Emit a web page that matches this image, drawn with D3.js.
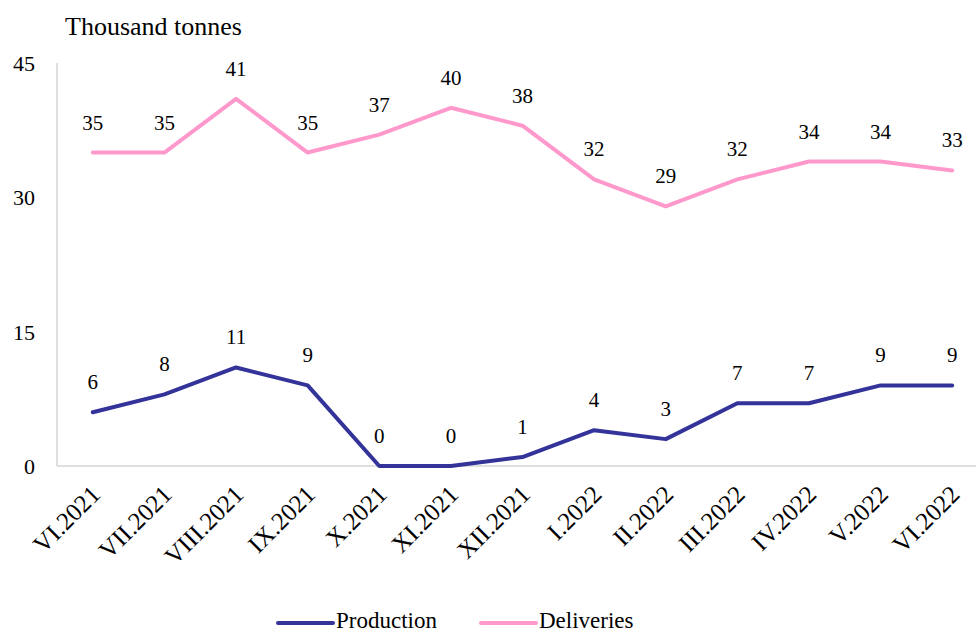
<!DOCTYPE html>
<meta charset="utf-8">
<style>
body { margin: 0; background: #fff; }
svg text { font-family: "Liberation Serif", "Times New Roman", serif; fill: #000; }
</style>
<svg width="976" height="634"></svg>
<script src="https://cdn.jsdelivr.net/npm/d3@7"></script>
<script>
var months = ["VI.2021", "VII.2021", "VIII.2021", "IX.2021", "X.2021", "XI.2021", "XII.2021",
              "I.2022", "II.2022", "III.2022", "IV.2022", "V.2022", "VI.2022"];
var production = [6, 8, 11, 9, 0, 0, 1, 4, 3, 7, 7, 9, 9];
var deliveries = [35, 35, 41, 35, 37, 40, 38, 32, 29, 32, 34, 34, 33];
var yTicks = [0, 15, 30, 45];

var svg = d3.select("svg");
var plotLeft = 57, plotRight = 988, plotTop = 63, plotBottom = 466;

var x = d3.scalePoint().domain(months).range([plotLeft, plotRight]).padding(0.5);
var y = d3.scaleLinear().domain([0, 45]).range([plotBottom, plotTop]);

// axes
svg.append("line").attr("x1", plotLeft).attr("x2", plotLeft).attr("y1", plotTop).attr("y2", plotBottom)
  .attr("stroke", "#bfbfbf");
svg.append("line").attr("x1", plotLeft).attr("x2", 976).attr("y1", plotBottom).attr("y2", plotBottom)
  .attr("stroke", "#bfbfbf");

svg.selectAll(".ytick").data(yTicks).enter().append("text")
  .attr("x", 35).attr("y", d => y(d) + 8)
  .attr("text-anchor", "end")
  .style("font-size", "22px")
  .text(d => d);

svg.append("text").attr("x", 65).attr("y", 35).style("font-size", "26px").text("Thousand tonnes");

svg.selectAll(".xlab").data(months).enter().append("text")
  .attr("text-anchor", "end")
  .style("font-size", "25px")
  .attr("transform", d => "translate(" + (x(d) + 9) + "," + (plotBottom + 30) + ") rotate(-45)")
  .text(d => d);

var series = [
  { name: "Production", values: production, color: "#333399" },
  { name: "Deliveries", values: deliveries, color: "#ff99cc" }
];

var line = d3.line().x((d, i) => x(months[i])).y(d => y(d));

series.forEach(function(s) {
  svg.append("path").datum(s.values)
    .attr("d", line)
    .attr("fill", "none")
    .attr("stroke", s.color)
    .attr("stroke-width", 4)
    .attr("stroke-linejoin", "round")
    .attr("stroke-linecap", "round");

  svg.selectAll(null).data(s.values).enter().append("text")
    .attr("x", (d, i) => x(months[i]))
    .attr("y", d => y(d) - 23)
    .attr("text-anchor", "middle")
    .style("font-size", "21px")
    .text(d => d);
});

// legend
var legX = [278, 481];
series.forEach(function(s, i) {
  svg.append("line").attr("x1", legX[i]).attr("x2", legX[i] + 55)
    .attr("y1", 623).attr("y2", 623)
    .attr("stroke", s.color).attr("stroke-width", 4).attr("stroke-linecap", "round");
  svg.append("text").attr("x", legX[i] + 58).attr("y", 628)
    .style("font-size", "23px").text(s.name);
});
</script>
